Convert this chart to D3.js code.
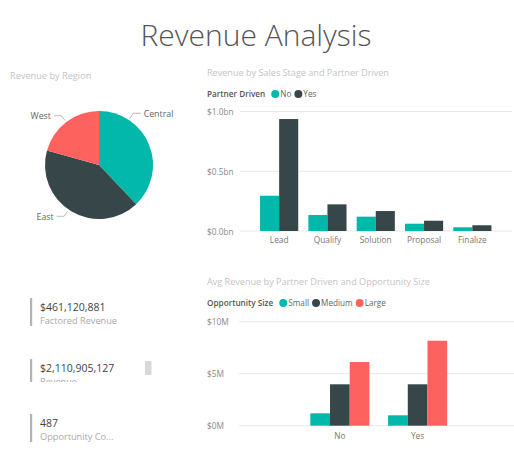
<!DOCTYPE html>
<html>
<head>
<meta charset="utf-8">
<script src="https://cdn.jsdelivr.net/npm/d3@7"></script>
<style>
  html, body { margin: 0; padding: 0; background: #ffffff; }
  svg { display: block; font-family: "Open Sans", "Noto Sans", sans-serif; }
</style>
</head>
<body>
<svg id="chart" width="514" height="451"></svg>
<script>
// ---- Data ----
const regions = ["Central", "East", "West"];
const regionShares = [0.379, 0.414, 0.207];

const stages = ["Lead", "Qualify", "Solution", "Proposal", "Finalize"];
const partnerKeys = ["No", "Yes"];
const stageNo = [0.295, 0.134, 0.120, 0.061, 0.031];
const stageYes = [0.937, 0.223, 0.167, 0.086, 0.048];
const stageTicks = [0, 0.5, 1.0];
const stageTickLabels = ["$0.0bn", "$0.5bn", "$1.0bn"];

const partnerCats = ["No", "Yes"];
const sizeKeys = ["Small", "Medium", "Large"];
const sizeSmall = [1.19, 1.0];
const sizeMedium = [3.98, 3.98];
const sizeLarge = [6.12, 8.17];
const avgTicks = [0, 5, 10];
const avgTickLabels = ["$0M", "$5M", "$10M"];

const cardValues = ["$461,120,881", "$2,110,905,127", "487"];
const cardLabels = ["Factored Revenue", "Revenue", "Opportunity Co..."];

const colors = { teal: "#01B8AA", dark: "#374649", red: "#FD625E" };
const regionColors = [colors.teal, colors.dark, colors.red];

const svg = d3.select("#chart");

// ---- Title ----
svg.append("text").attr("x", 256).attr("y", 46).attr("text-anchor", "middle")
  .attr("font-size", 30).attr("font-weight", 300).attr("fill", "#555")
  .text("Revenue Analysis");

// ---- Pie ----
svg.append("text").attr("x", 10).attr("y", 79).attr("font-size", 9.2)
  .attr("fill", "#c4c4c4").text("Revenue by Region");

const pieG = svg.append("g").attr("transform", "translate(99,165)");
const pie = d3.pie().sort(null).value(d => d)(regionShares);
const arc = d3.arc().innerRadius(0).outerRadius(54);
pieG.selectAll("path").data(pie).join("path")
  .attr("d", arc).attr("fill", (d, i) => regionColors[i]);

// leader lines: position along each slice (fraction of its angular span)
const leaderFrac = [0.245, 0.522, 0.499];
pie.forEach((p, i) => {
  const a = p.startAngle + (p.endAngle - p.startAngle) * leaderFrac[i];
  const [x0, y0] = [Math.sin(a) * 56, -Math.cos(a) * 56];
  const [x1, y1] = [Math.sin(a) * 62, -Math.cos(a) * 62];
  const dir = Math.sin(a) > 0 ? 1 : -1;
  const x2 = x1 + dir * 7.5;
  pieG.append("path")
    .attr("d", `M${x0},${y0}L${x1},${y1}L${x2},${y1}`)
    .attr("fill", "none").attr("stroke", "#aaa").attr("stroke-width", 0.8);
  pieG.append("text").attr("x", x2 + dir * 3).attr("y", y1 + 3.3)
    .attr("text-anchor", dir > 0 ? "start" : "end")
    .attr("font-size", 8.8).attr("fill", "#666").text(regions[i]);
});

// ---- Generic grouped bar chart ----
function groupedBar(opts) {
  const g = svg.append("g");
  g.append("text").attr("x", opts.titleX).attr("y", opts.titleY).attr("font-size", 9.1)
    .attr("fill", "#c4c4c4").text(opts.title);
  // legend
  let lx = opts.titleX;
  const legT = g.append("text").attr("x", lx).attr("y", opts.legendY).attr("font-size", 8.2)
    .attr("fill", "#555").attr("font-weight", 600).text(opts.legendTitle);
  lx += legT.node().getComputedTextLength() + 6;
  opts.keys.forEach((k, i) => {
    g.append("circle").attr("cx", lx + 4).attr("cy", opts.legendY - 3).attr("r", 4)
      .attr("fill", opts.colors[i]);
    const t = g.append("text").attr("x", lx + 9).attr("y", opts.legendY).attr("font-size", 8.2)
      .attr("fill", "#666").text(k);
    lx += 9 + t.node().getComputedTextLength() + 3;
  });
  const y = d3.scaleLinear().domain(opts.yDomain).range([opts.y0, opts.y1]);
  const x = d3.scaleBand().domain(opts.cats).range(opts.xRange).paddingInner(opts.padIn).paddingOuter(opts.padOut);
  const xs = d3.scaleBand().domain(opts.keys).range([0, x.bandwidth()]);
  // gridlines
  opts.ticks.forEach((t, i) => {
    g.append("line").attr("x1", opts.gridX0).attr("x2", opts.gridX1)
      .attr("y1", y(t)).attr("y2", y(t)).attr("stroke", "#e8e8e8").attr("stroke-width", 1);
    g.append("text").attr("x", opts.titleX).attr("y", y(t) + 3.5).attr("font-size", 8.3)
      .attr("fill", "#888").text(opts.tickLabels[i]);
  });
  opts.cats.forEach((c, ci) => {
    opts.keys.forEach((k, ki) => {
      const v = opts.series[ki][ci];
      g.append("rect").attr("x", x(c) + xs(k)).attr("width", xs.bandwidth())
        .attr("y", y(v)).attr("height", y(0) - y(v)).attr("fill", opts.colors[ki]);
    });
    g.append("text").attr("x", x(c) + x.bandwidth() / 2).attr("y", opts.xLabelY)
      .attr("text-anchor", "middle").attr("font-size", 8.3).attr("fill", "#777").text(c);
  });
}

groupedBar({
  title: "Revenue by Sales Stage and Partner Driven", titleX: 207, titleY: 76,
  legendTitle: "Partner Driven", legendY: 97, keys: partnerKeys,
  colors: [colors.teal, colors.dark], series: [stageNo, stageYes],
  cats: stages, yDomain: [0, 1], y0: 231, y1: 111.5,
  xRange: [255, 496.5], padIn: 0.21, padOut: 0.105,
  gridX0: 240, gridX1: 512, ticks: stageTicks, tickLabels: stageTickLabels, xLabelY: 243
});

groupedBar({
  title: "Avg Revenue by Partner Driven and Opportunity Size", titleX: 207, titleY: 285,
  legendTitle: "Opportunity Size", legendY: 306, keys: sizeKeys,
  colors: [colors.teal, colors.dark, colors.red], series: [sizeSmall, sizeMedium, sizeLarge],
  cats: partnerCats, yDomain: [0, 10], y0: 425.7, y1: 321.7,
  xRange: [301, 456.5], padIn: 0.24, padOut: 0.12,
  gridX0: 239, gridX1: 514, ticks: avgTicks, tickLabels: avgTickLabels, xLabelY: 439
});

// ---- Cards ----
const cardTop = [298, 359, 414];
const cardH = [28, 23, 28];
cardValues.forEach((v, i) => {
  const g = svg.append("g");
  if (i === 1) {
    g.append("clipPath").attr("id", "clipCard").append("rect")
      .attr("x", 0).attr("y", 355).attr("width", 200).attr("height", 27);
  }
  const inner = g.append("g").attr("clip-path", i === 1 ? "url(#clipCard)" : null);
  inner.append("rect").attr("x", 30).attr("y", cardTop[i]).attr("width", 2.2)
    .attr("height", i === 1 ? 28 : cardH[i]).attr("fill", "#b3b3b3");
  inner.append("text").attr("x", 40).attr("y", cardTop[i] + 13).attr("font-size", 10.5)
    .attr("fill", "#444").text(v);
  inner.append("text").attr("x", 40).attr("y", cardTop[i] + 26).attr("font-size", 9.2)
    .attr("fill", "#aaa").text(cardLabels[i]);
});
svg.append("rect").attr("x", 145).attr("y", 361).attr("width", 6.5).attr("height", 14)
  .attr("fill", "#d8d8d8");
</script>
</body>
</html>
